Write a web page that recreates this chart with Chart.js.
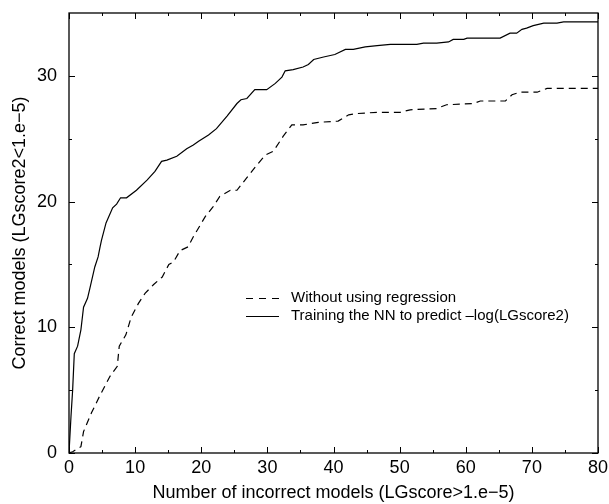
<!DOCTYPE html>
<html lang="en">
<head>
  <meta charset="UTF-8" />
  <title>Correct models vs incorrect models</title>
  <style>
    html, body { margin: 0; padding: 0; background: #fff; }
    canvas { display: block; }
  </style>
</head>
<body>
  <canvas id="chart" width="609" height="504"></canvas>

  <script src="https://cdn.jsdelivr.net/npm/chart.js"></script>
  <script>
    // series
    const seriesNames = ['Without using regression', 'Training the NN to predict \u2013log(LGscore2)'];

    const plainX = [0, 0.55, 1.8, 2.2, 3.4, 4.7, 6.2, 7.3, 7.6, 8.6, 9.4, 10.5, 11.5, 12.8, 14.1, 15.1, 15.8, 16.8, 18.0, 18.8,
      20.6, 21.8, 22.8, 24.4, 25.4, 26.9, 28.4, 29.7, 30.9, 32.4, 33.7, 35.4, 37.7, 40.7, 42.3, 43.5, 46.6, 50.1, 51.6, 55.6,
      57.1, 61.2, 62.2, 66.0, 67.0, 68.2, 70.8, 72.3, 80];
    const plainY = [0, 0.1, 0.5, 1.7, 3.2, 4.6, 6.1, 6.9, 8.5, 9.4, 10.8, 11.9, 12.7, 13.4, 14.0, 15.0, 15.2, 16.1, 16.4, 17.2,
      18.8, 19.6, 20.4, 20.9, 20.9, 21.9, 22.9, 23.7, 24.0, 25.2, 26.1, 26.1, 26.3, 26.4, 26.9, 27.0, 27.1, 27.1, 27.3, 27.4,
      27.7, 27.8, 28.0, 28.0, 28.5, 28.7, 28.7, 29.0, 29.0];

    const nnX = [0, 0.15, 0.3, 0.55, 0.8, 1.3, 1.8, 2.2, 2.8, 3.2, 3.9, 4.4, 4.7, 4.9, 5.6, 6.6, 7.2, 7.8, 8.7, 10.2,
      11.8, 13.0, 14.0, 14.8, 16.3, 17.8, 18.8, 19.6, 21.1, 22.3, 23.9, 25.4, 26.0, 26.9, 28.1, 29.9, 31.2, 32.2, 32.7, 33.9,
      35.4, 36.2, 37.0, 38.5, 40.2, 41.8, 43.0, 44.8, 46.6, 48.6, 52.6, 53.6, 55.6, 57.4, 58.1, 59.7, 60.2, 65.2, 66.7, 67.7,
      68.5, 69.2, 70.2, 71.8, 73.8, 74.8, 80];
    const nnY = [0, 0, 2.9, 5.0, 7.9, 8.5, 9.8, 11.6, 12.3, 13.2, 14.8, 15.6, 16.4, 16.9, 18.3, 19.5, 19.8, 20.3, 20.3, 20.9,
      21.7, 22.4, 23.2, 23.3, 23.6, 24.2, 24.5, 24.8, 25.3, 25.8, 26.8, 27.8, 28.1, 28.2, 28.9, 28.9, 29.4, 29.9, 30.4, 30.5,
      30.7, 30.9, 31.3, 31.5, 31.7, 32.1, 32.1, 32.3, 32.4, 32.5, 32.5, 32.6, 32.6, 32.7, 32.9, 32.9, 33.0, 33.0, 33.4, 33.4,
      33.7, 33.8, 34.0, 34.2, 34.2, 34.3, 34.3];

    const xTicks = [0, 10, 20, 30, 40, 50, 60, 70, 80];
    const yTicks = [0, 10, 20, 30];
    const xMinor = [5, 15, 25, 35, 45, 55, 65, 75];
    const yMinor = [5, 15, 25];

    function pts(xs, ys) { return xs.map((x, i) => ({ x: x, y: ys[i] })); }

    const FONT = 'Liberation Sans, Arial, Helvetica, sans-serif';

    // box + inward ticks on all four sides, like the original plot
    const frame = {
      id: 'frame',
      afterDraw(chart) {
        const c = chart.ctx, a = chart.chartArea;
        const xs = chart.scales.x, ys = chart.scales.y;
        c.save();
        c.strokeStyle = '#000';
        c.lineWidth = 1.3;
        c.strokeRect(a.left, a.top, a.right - a.left, a.bottom - a.top);
        c.lineWidth = 1;
        c.beginPath();
        const tickX = (v, len) => {
          const p = Math.round(xs.getPixelForValue(v)) + 0.5;
          c.moveTo(p, a.bottom); c.lineTo(p, a.bottom - len);
          c.moveTo(p, a.top); c.lineTo(p, a.top + len);
        };
        const tickY = (v, len) => {
          const p = Math.round(ys.getPixelForValue(v)) + 0.5;
          c.moveTo(a.left, p); c.lineTo(a.left + len, p);
          c.moveTo(a.right, p); c.lineTo(a.right - len, p);
        };
        xTicks.forEach(v => tickX(v, 6));
        xMinor.forEach(v => tickX(v, 3));
        yTicks.forEach(v => tickY(v, 6));
        yMinor.forEach(v => tickY(v, 3));
        c.stroke();
        c.restore();
      }
    };

    // legend sits inside the plot
    const insideLegend = {
      id: 'insideLegend',
      afterDraw(chart) {
        const c = chart.ctx;
        const rows = [{ y: 298, dash: [7, 6] }, { y: 316, dash: [] }];
        c.save();
        c.strokeStyle = '#000';
        c.fillStyle = '#000';
        c.lineWidth = 1.2;
        c.font = '15px ' + FONT;
        c.textBaseline = 'middle';
        rows.forEach((r, i) => {
          c.setLineDash(r.dash);
          c.beginPath();
          c.moveTo(246, r.y + 0.5); c.lineTo(279, r.y + 0.5);
          c.stroke();
          c.fillText(seriesNames[i], 291, r.y);
        });
        c.restore();
      }
    };

    new Chart(document.getElementById('chart').getContext('2d'), {
      type: 'scatter',
      data: {
        datasets: [
          { label: seriesNames[0], data: pts(plainX, plainY), showLine: true, borderColor: '#000',
            borderWidth: 1.2, borderDash: [7, 5], pointRadius: 0, tension: 0 },
          { label: seriesNames[1], data: pts(nnX, nnY), showLine: true, borderColor: '#000',
            borderWidth: 1.2, pointRadius: 0, tension: 0 }
        ]
      },
      options: {
        responsive: false,
        animation: false,
        layout: { padding: { left: 0, top: 13, right: 11, bottom: 0 } },
        plugins: { legend: { display: false }, tooltip: { enabled: false } },
        scales: {
          x: {
            type: 'linear', min: 0, max: 80,
            grid: { display: false, drawTicks: false }, border: { display: false },
            afterBuildTicks: s => { s.ticks = xTicks.map(v => ({ value: v })); },
            afterFit: s => { s.height = 51; s.paddingLeft = 0; s.paddingRight = 0; },
            ticks: { padding: 4, color: '#000', font: { family: FONT, size: 18 }, maxRotation: 0 },
            title: { display: true, text: 'Number of incorrect models (LGscore>1.e\u22125)', color: '#000',
              font: { family: FONT, size: 18 }, padding: { top: 0, bottom: 0 } }
          },
          y: {
            type: 'linear', min: 0, max: 35,
            grid: { display: false, drawTicks: false }, border: { display: false },
            afterBuildTicks: s => { s.ticks = yTicks.map(v => ({ value: v })); },
            afterFit: s => { s.width = 69; s.paddingTop = 0; s.paddingBottom = 0; },
            ticks: { padding: 12, color: '#000', font: { family: FONT, size: 18 } },
            title: { display: true, text: 'Correct models (LGscore2<1.e\u22125)', color: '#000',
              font: { family: FONT, size: 18 }, padding: { top: 9, bottom: 0 } }
          }
        }
      },
      plugins: [frame, insideLegend]
    });
  </script>
</body>
</html>
